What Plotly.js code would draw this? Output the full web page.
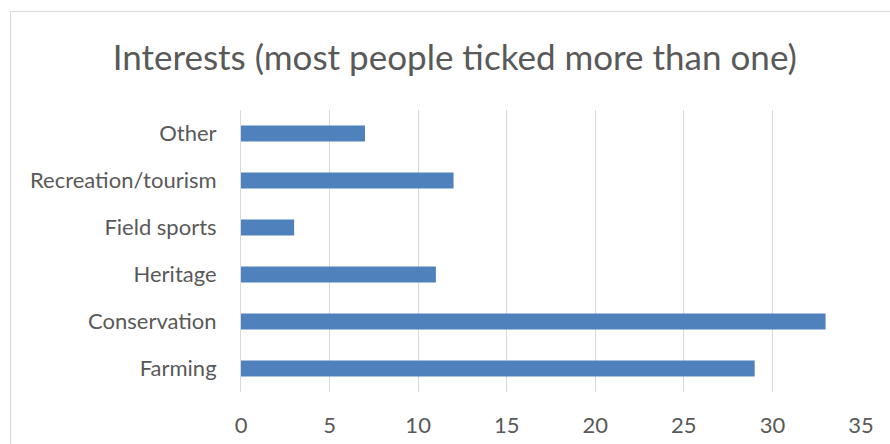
<!DOCTYPE html>
<html>
<head>
<meta charset="utf-8">
<script src="https://cdn.plot.ly/plotly-3.0.1.min.js"></script>
<style>
html,body{margin:0;padding:0;background:#fff;}
#frame{position:absolute;left:10px;top:11px;width:900px;height:450px;border-left:1px solid #d9d9d9;border-top:1px solid #d9d9d9;pointer-events:none;}
#chart{position:absolute;left:0;top:0;width:890px;height:444px;}
</style>
</head>
<body>
<div id="chart"></div>
<div id="frame"></div>
<script>
const categories = ["Farming", "Conservation", "Heritage", "Field sports", "Recreation/tourism", "Other"];
const counts = [29, 33, 11, 3, 12, 7];
const xTicks = [0, 5, 10, 15, 20, 25, 30, 35];
const titleText = "Interests (most people ticked more than one)";

const trace = {
  type: "bar",
  orientation: "h",
  y: categories,
  x: counts,
  width: 0.34,
  marker: {color: "#4f81bd"},
  hoverinfo: "x+y"
};

const layout = {
  width: 890,
  height: 444,
  margin: {l: 241, r: 29, t: 110, b: 52},
  paper_bgcolor: "rgba(0,0,0,0)",
  plot_bgcolor: "rgba(0,0,0,0)",
  font: {family: "Lato, 'Open Sans', sans-serif", color: "#595959", size: 22},
  title: {
    text: titleText,
    font: {size: 35, color: "#595959", family: "Lato, 'Open Sans', sans-serif"},
    x: 0.511, xanchor: "center", xref: "container",
    y: 0.87, yanchor: "middle", yref: "container"
  },
  showlegend: false,
  xaxis: {
    range: [0, 35],
    tickvals: xTicks,
    ticktext: xTicks.map(String),
    showgrid: true,
    gridcolor: "#d9d9d9",
    gridwidth: 1,
    zeroline: false,
    showline: false,
    ticks: "",
    ticklabelstandoff: 18,
    fixedrange: true
  },
  yaxis: {
    type: "category",
    categoryorder: "array",
    categoryarray: categories,
    showgrid: false,
    zeroline: false,
    showline: true,
    linecolor: "#d9d9d9",
    linewidth: 1,
    ticks: "outside",
    ticklen: 19,
    tickcolor: "rgba(0,0,0,0)",
    fixedrange: true
  }
};

Plotly.newPlot("chart", [trace], layout, {displayModeBar: false, staticPlot: true});
</script>
</body>
</html>
